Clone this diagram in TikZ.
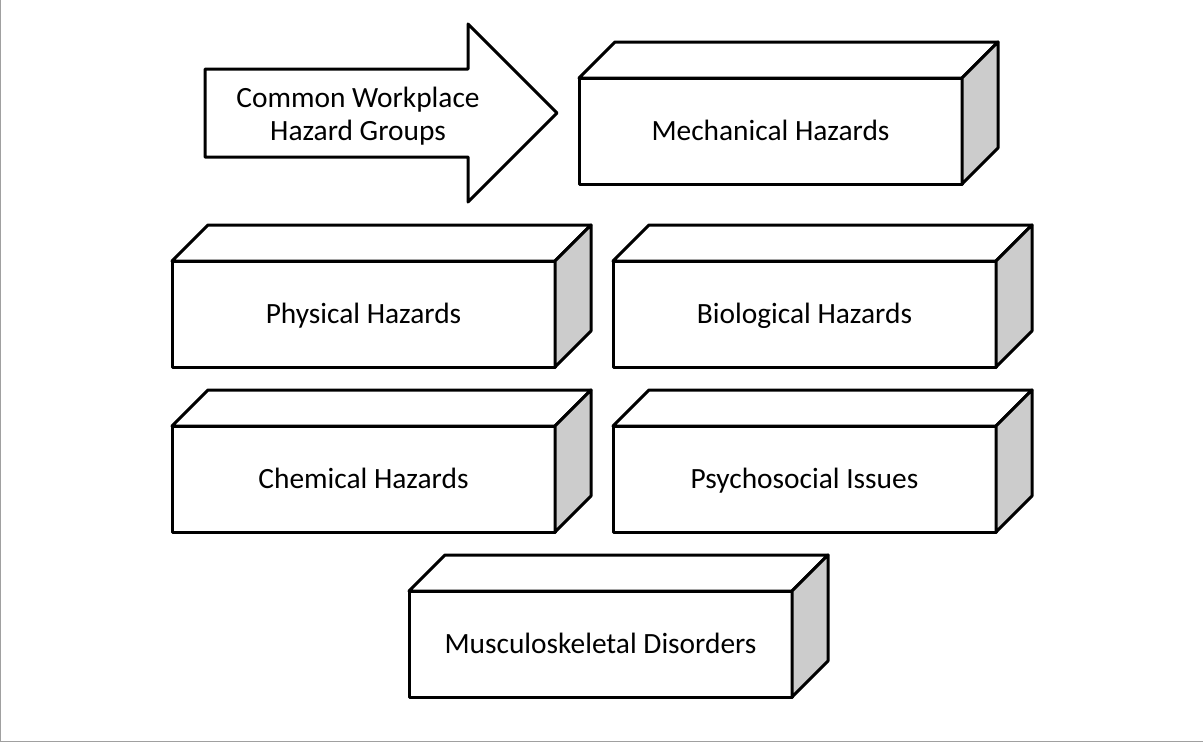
\documentclass[tikz,border=0pt]{standalone}
\usepackage{fontspec}
\setmainfont{Carlito}
\definecolor{framegray}{RGB}{160,160,160}
\definecolor{sidegray}{RGB}{204,204,204}
% top and right faces of a cuboid whose front face is node #1
\newcommand\cuboidfaces[1]{%
  \draw[edge, fill=white] (#1.north west) -- ++(36,-36) -- ++(383,0) -- (#1.north east) -- cycle;
  \draw[edge, fill=sidegray] (#1.north east) -- ++(36,-36) -- ++(0,106) -- (#1.south east) -- cycle;}
\begin{document}
\begin{tikzpicture}[x=1pt, y=-1pt,
  edge/.style={line width=3pt, line join=round, draw=black},
  label/.style={font=\fontsize{29.4}{32.5}\selectfont},
  front/.style={edge, fill=white, rectangle, minimum width=383pt, minimum height=106pt,
                inner sep=0pt, outer sep=0pt, label, text height=26.5pt, text depth=7.5pt}]
\useasboundingbox (0,0) rectangle (1203,742);
% page frame
\draw[framegray, line width=1.2pt] (0.6,0) -- (0.6,741.4) -- (1203,741.4);

% header arrow
\draw[edge, fill=white] (205,69) -- (468,69) -- (468,24) -- (557,113) -- (468,202)
  -- (468,157) -- (205,157) -- cycle;
\node[label, align=center] (title) at (358,116) {Common Workplace\\Hazard Groups};

% hazard groups
\node[front] (mech) at (770.5,131) {Mechanical Hazards};
\cuboidfaces{mech}
\node[front] (phys) at (363.5,314) {Physical Hazards};
\cuboidfaces{phys}
\node[front] (bio) at (804.5,314) {Biological Hazards};
\cuboidfaces{bio}
\node[front] (chem) at (363.5,479) {Chemical Hazards};
\cuboidfaces{chem}
\node[front] (psych) at (804.5,479) {Psychosocial Issues};
\cuboidfaces{psych}
\node[front] (msd) at (600.5,644) {Musculoskeletal Disorders};
\cuboidfaces{msd}
\end{tikzpicture}
\end{document}
